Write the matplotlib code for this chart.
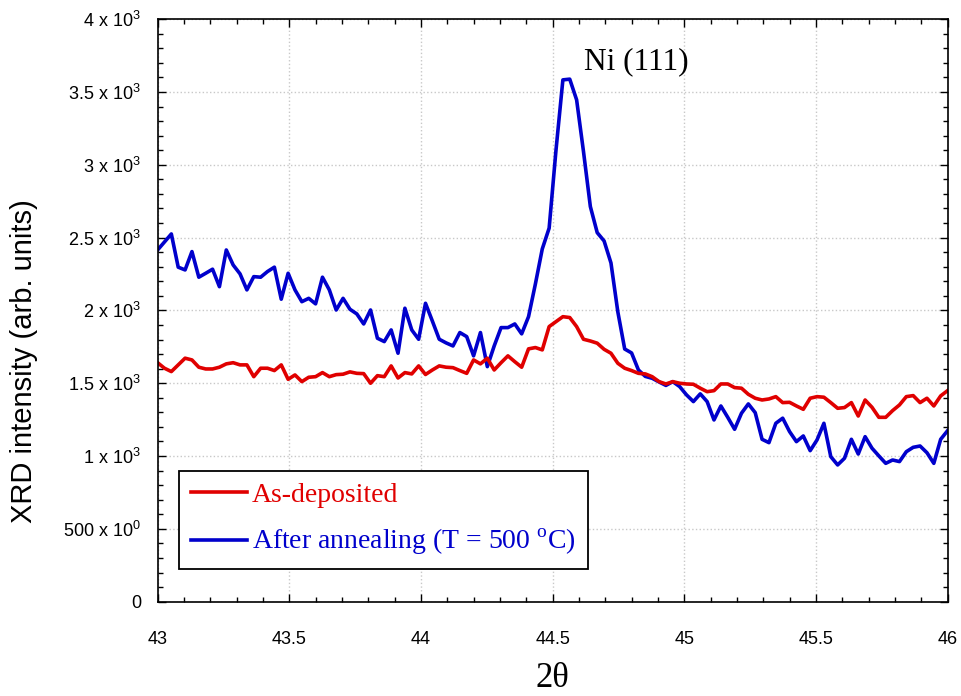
import matplotlib
matplotlib.use('Agg')
import matplotlib.pyplot as plt
import numpy as np
from matplotlib.ticker import MultipleLocator

plt.rcParams['font.family'] = 'Liberation Sans'
plt.rcParams['mathtext.fontset'] = 'custom'
plt.rcParams['mathtext.rm'] = 'Liberation Serif'
plt.rcParams['mathtext.sf'] = 'Liberation Sans'

# scan 43-46 deg, 116 points
two_theta = np.linspace(43.0, 46.0, 116)

as_deposited = [
    1641, 1603, 1580, 1626, 1672, 1660, 1610, 1598, 1598, 1610,
    1633, 1641, 1626, 1626, 1545, 1603, 1603, 1587, 1626, 1527,
    1557, 1511, 1541, 1545, 1573, 1545, 1559, 1562, 1578, 1568,
    1566, 1500, 1552, 1545, 1619, 1536, 1573, 1564, 1619, 1560,
    1591, 1619, 1610, 1607, 1587, 1568, 1660, 1633, 1672, 1591,
    1641, 1688, 1648, 1610, 1736, 1745, 1729, 1889, 1923, 1957,
    1951, 1889, 1802, 1790, 1775, 1733, 1706, 1637, 1603, 1587,
    1568, 1564, 1545, 1511, 1495, 1511, 1500, 1495, 1493, 1466,
    1442, 1449, 1495, 1495, 1470, 1466, 1424, 1397, 1385, 1392,
    1408, 1367, 1369, 1344, 1321, 1397, 1408, 1404, 1367, 1328,
    1333, 1367, 1275, 1385, 1335, 1266, 1266, 1312, 1351, 1408,
    1415, 1367, 1397, 1344, 1413, 1449,
]

annealed = [
    2415, 2470, 2525, 2297, 2278, 2404, 2228, 2255, 2283, 2163,
    2415, 2312, 2251, 2141, 2232, 2228, 2267, 2297, 2077, 2255,
    2141, 2060, 2083, 2045, 2228, 2141, 2003, 2083, 2008, 1976,
    1907, 2003, 1809, 1786, 1866, 1706, 2015, 1866, 1802, 2049,
    1927, 1802, 1777, 1756, 1848, 1820, 1688, 1848, 1614, 1756,
    1882, 1882, 1907, 1839, 1957, 2182, 2422, 2565, 3102, 3583,
    3588, 3446, 3091, 2713, 2534, 2477, 2326, 1990, 1735, 1708,
    1591, 1547, 1534, 1509, 1485, 1511, 1477, 1420, 1374, 1427,
    1374, 1248, 1344, 1266, 1184, 1294, 1358, 1298, 1115, 1092,
    1225, 1260, 1168, 1099, 1138, 1037, 1111, 1225, 996, 939,
    985, 1115, 1014, 1133, 1054, 1001, 950, 973, 962, 1030,
    1060, 1069, 1023, 950, 1115, 1174,
]

y_ticks = [0, 500, 1000, 1500, 2000, 2500, 3000, 3500, 4000]
y_labels = ['0', r'500 x 10$^{\mathsf{0}}$', r'1 x 10$^{\mathsf{3}}$',
            r'1.5 x 10$^{\mathsf{3}}$', r'2 x 10$^{\mathsf{3}}$',
            r'2.5 x 10$^{\mathsf{3}}$', r'3 x 10$^{\mathsf{3}}$',
            r'3.5 x 10$^{\mathsf{3}}$', r'4 x 10$^{\mathsf{3}}$']
x_ticks = [43, 43.5, 44, 44.5, 45, 45.5, 46]
x_labels = ['43', '43.5', '44', '44.5', '45', '45.5', '46']

RED = '#e00000'
BLUE = '#0000cc'

fig = plt.figure(figsize=(9.61, 6.96), dpi=100)
ax = fig.add_axes([0.164, 0.1355, 0.822, 0.837])

l_blue, = ax.plot(two_theta, annealed, color=BLUE, lw=2.6,
                  label=r'After annealing (T = 500 $^{\mathrm{o}}$C)')
l_red, = ax.plot(two_theta, as_deposited, color=RED, lw=2.6,
                 label='As-deposited')

ax.set_xlim(43, 46)
ax.set_ylim(0, 4000)
ax.set_xticks(x_ticks, x_labels)
ax.set_yticks(y_ticks, y_labels)
ax.xaxis.set_minor_locator(MultipleLocator(0.1))
ax.yaxis.set_minor_locator(MultipleLocator(100))

ax.grid(True, which='major', linestyle=':', color='#c8c8c8', lw=1.0)
ax.set_axisbelow(True)

for s in ax.spines.values():
    s.set_linewidth(1.2)
ax.tick_params(which='both', direction='in', top=True, right=True,
               colors='black', width=1.0)
ax.tick_params(which='major', length=6)
ax.tick_params(which='minor', length=3.5)
ax.tick_params(axis='y', which='major', labelsize=13, pad=12)
ax.tick_params(axis='x', which='major', labelsize=13, pad=21)

ax.set_ylabel('XRD intensity (arb. units)', fontsize=21)
ax.yaxis.set_label_coords(-0.152, 0.413)
ax.set_xlabel('2θ', fontsize=25, family='Liberation Serif', labelpad=10)

ax.text(44.817, 3707, 'Ni (111)', fontsize=22.5, family='Liberation Serif',
        ha='center', va='center')

leg = ax.legend(handles=[l_red, l_blue], loc='upper left',
                bbox_to_anchor=(0.0275, 0.225), borderaxespad=0,
                prop={'family': 'Liberation Serif', 'size': 20},
                labelcolor=[RED, BLUE], fancybox=False, framealpha=1,
                edgecolor='black', handlelength=2.0, handletextpad=0.2,
                labelspacing=0.7, borderpad=0.42)
leg.get_frame().set_linewidth(1.3)

fig.savefig('out.png', dpi=100)
